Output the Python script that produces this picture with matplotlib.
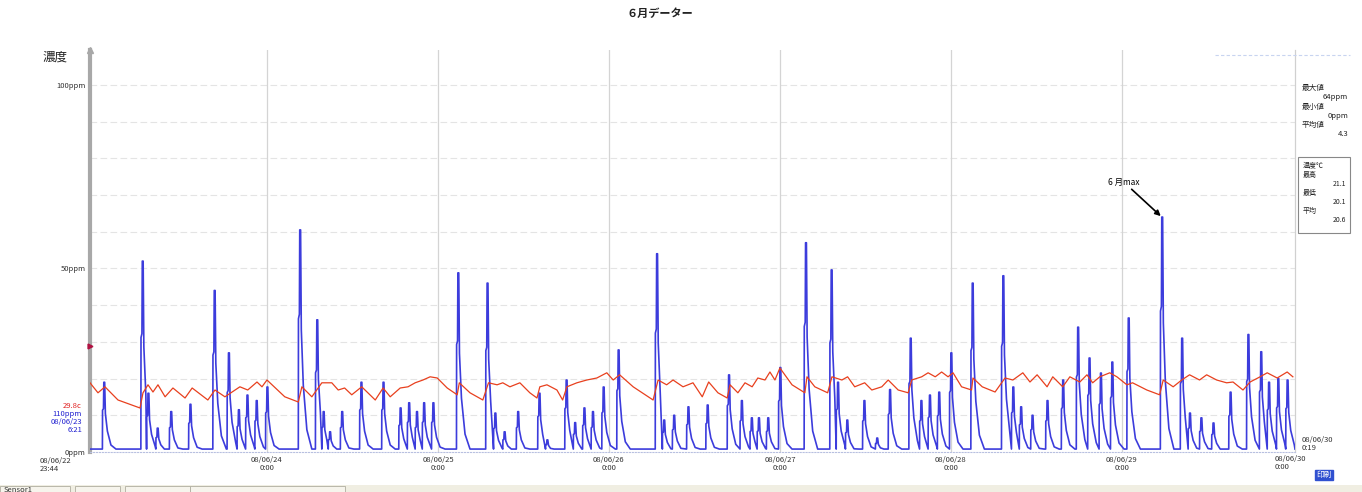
import matplotlib
matplotlib.use('Agg')
import matplotlib.pyplot as plt
from matplotlib.patches import Rectangle
import numpy as np

plt.rcParams['font.family'] = ['Noto Sans CJK JP', 'DejaVu Sans']

# hours counted from 08/06/23 0:00
event_hours = [1.1, 6.5, 7.3, 8.6, 10.5, 13.2, 16.6, 18.6, 20.0, 21.2, 22.5, 24.0,
               28.6, 31.0, 31.9, 32.8, 34.5, 37.2, 40.3, 42.7, 43.9, 45.0, 46.0, 47.3,
               50.8, 54.9, 56.0, 57.3, 59.2, 62.2, 63.3, 66.0, 67.2, 68.5, 69.7, 71.2,
               73.3, 78.7, 79.7, 81.1, 83.1, 85.8, 88.8, 90.6, 92.0, 93.0, 94.3, 96.0,
               99.6, 103.2, 104.1, 105.4, 107.8, 109.6, 111.4, 114.3, 115.8, 117.0, 118.3,
               120.0, 123.0, 127.3, 128.7, 129.8, 131.4, 133.5, 135.7, 137.8, 139.4, 141.0,
               142.6, 144.9, 149.6, 152.4, 153.5, 155.1, 156.8, 159.2, 161.7, 163.5, 164.6,
               165.9, 167.2]
event_ppm = [19, 52, 16, 6.5, 11, 13, 44, 27, 11.5, 15.5, 14, 17.7,
             60.5, 36, 11, 5.5, 11, 19, 19, 12, 13.4, 11, 13.4, 13.4,
             48.8, 46, 10.6, 5.5, 11, 16, 3.3, 19.6, 8, 12, 11, 17.7,
             27.8, 54, 8.7, 10, 12.3, 12.8, 21, 14, 9.3, 9.3, 9.3, 23,
             57, 49.6, 19, 8.7, 14, 3.8, 17, 31, 14, 15.5, 16.3,
             27, 46, 48, 17.7, 12.3, 10, 14, 19.6, 34, 25.6, 21.5,
             24.5, 36.5, 64, 31, 10.6, 9.3, 7.9, 16.3, 32, 27.3, 19,
             20, 19.6]
base_ppm = 0.8

temp_hours = [-0.84, 0.28, 1.26, 3.09, 6.18, 6.6, 7.3, 8.0, 8.7, 9.7, 10.8, 12.5, 13.5,
              15.7, 16.7, 18.1, 19.1, 20.2, 21.3, 22.6, 23.3, 24.0, 26.5, 28.4, 28.9,
              30.3, 31.7, 33.1, 34.0, 34.9, 35.9, 37.3, 39.2, 40.3, 41.3, 42.7, 43.8,
              44.8, 45.9, 46.9, 47.9, 49.3, 50.7, 51.0, 52.5, 54.3, 55.1, 56.3, 57.1,
              58.1, 59.5, 60.9, 61.9, 62.3, 63.3, 64.7, 65.5, 66.1, 67.5, 68.9, 70.3,
              71.7, 72.6, 73.5, 75.4, 78.2, 78.9, 80.1, 81.0, 82.4, 83.8, 85.1, 86.0,
              87.3, 88.6, 89.0, 90.1, 91.1, 92.1, 92.9, 93.9, 94.6, 95.3, 96.0, 97.7,
              99.5, 99.8, 100.9, 102.7, 103.3, 104.7, 105.5, 106.5, 107.9, 108.9, 110.3,
              111.2, 112.6, 114.0, 114.5, 115.9, 116.8, 117.8, 118.7, 119.6, 120.3, 121.5,
              122.9, 123.1, 124.4, 126.2, 127.6, 128.7, 130.1, 131.1, 132.1, 133.5, 134.3,
              135.7, 136.7, 138.1, 139.1, 139.9, 140.9, 142.3, 143.3, 144.7, 145.5, 147.5,
              149.3, 149.8, 151.2, 152.4, 153.5, 154.9, 155.9, 157.3, 158.7, 159.6, 161.0,
              162.0, 163.4, 164.4, 165.8, 167.2, 168.0]
temp_c = [20.83, 20.58, 20.73, 20.40, 20.20, 20.58, 20.78, 20.60, 20.78, 20.48, 20.70, 20.45, 20.70,
          20.40, 20.65, 20.48, 20.60, 20.73, 20.65, 20.85, 20.73, 20.90, 20.48, 20.35, 20.73,
          20.48, 20.83, 20.83, 20.65, 20.70, 20.53, 20.73, 20.40, 20.70, 20.48, 20.70, 20.73,
          20.83, 20.90, 20.98, 20.95, 20.70, 20.53, 20.83, 20.58, 20.40, 20.83, 20.78, 20.83,
          20.73, 20.83, 20.58, 20.45, 20.73, 20.78, 20.65, 20.40, 20.73, 20.83, 20.90, 20.95,
          21.08, 20.90, 21.03, 20.73, 20.40, 20.90, 20.78, 20.90, 20.73, 20.83, 20.48, 20.85,
          20.58, 20.45, 20.78, 20.58, 20.83, 20.73, 20.95, 20.90, 21.10, 20.90, 21.20, 20.78,
          20.58, 20.98, 20.73, 20.58, 20.98, 20.90, 20.98, 20.73, 20.83, 20.65, 20.73,
          20.90, 20.65, 20.58, 20.90, 20.98, 21.08, 20.98, 21.10, 20.98, 21.08, 20.73,
          20.65, 20.95, 20.73, 20.60, 20.95, 20.90, 21.08, 20.85, 21.03, 20.73, 20.98,
          20.73, 20.98, 20.85, 21.03, 20.83, 20.98, 21.08, 20.98, 20.78, 20.83, 20.65,
          20.53, 20.90, 20.73, 20.90, 21.03, 20.90, 21.03, 20.90, 20.83, 20.85, 20.65,
          20.85, 20.98, 21.08, 20.95, 21.10, 20.98]

day_hours = [24, 48, 72, 96, 120, 144]
day_labels = ['08/06/24\n0:00', '08/06/25\n0:00', '08/06/26\n0:00', '08/06/27\n0:00',
              '08/06/28\n0:00', '08/06/29\n0:00']

# build spike polyline (shape offsets are only drawing style)
shape_dt = [-0.2, -0.18, -0.05, 0.0, 0.12, 0.22, 0.5, 1.0, 1.7]
shape_fr = [0.0, 0.6, 0.62, 1.0, 1.0, 0.55, 0.3, 0.1, 0.0]
xs, ys = [-0.84], [base_ppm]
for i, (t, p) in enumerate(zip(event_hours, event_ppm)):
    nxt = event_hours[i + 1] - 0.21 if i + 1 < len(event_hours) else 168.3
    for dt, fr in zip(shape_dt, shape_fr):
        if t + dt < nxt and t + dt > xs[-1]:
            xs.append(t + dt)
            ys.append(max(base_ppm, fr * p))
xs.append(168.3); ys.append(base_ppm)

W, H = 1362, 492
fig = plt.figure(figsize=(W / 100, H / 100), dpi=100)
ax = fig.add_axes([90 / W, 1 - 452 / H, (1295 - 90) / W, (452 - 50) / H])

def fx(x, y):
    return x / W, 1 - y / H

for v in range(10, 110, 10):
    ax.axhline(v, color='#e4e4e4', lw=0.8, ls=(0, (6, 3)), zorder=0)
for d in day_hours:
    ax.axvline(d, color='#d4d4d4', lw=0.9, zorder=0)

ax.plot(xs, ys, color='#3c3cdc', lw=1.2, zorder=3)

ax2 = ax.twinx()
ax2.plot(temp_hours, temp_c, color='#e8401e', lw=0.9, zorder=2)
ax2.set_ylim(19.1, 29.15)
ax2.set_yticks([])
for s in ax2.spines.values():
    s.set_visible(False)

ax.set_xlim(-0.84, 168.3)
ax.set_ylim(0, 109.5)
ax.set_xticks(day_hours)
ax.set_xticklabels(day_labels, fontsize=5.5, color='#333333', linespacing=0.9)
ax.set_yticks([0, 50, 100])
ax.set_yticklabels(['0ppm', '50ppm', '100ppm'], fontsize=5.5, color='#333333')
ax.tick_params(length=0, pad=3)
ax.spines['top'].set_visible(False)
ax.spines['right'].set_color('#d0d0d0')
ax.spines['right'].set_linewidth(0.9)
ax.spines['left'].set_color('#a8a8a8')
ax.spines['left'].set_linewidth(3)
ax.spines['bottom'].set_color('#b8c0e0')
ax.spines['bottom'].set_linestyle(':')
ax.plot([0], [1], marker='^', color='#a8a8a8', ms=5, transform=ax.transAxes, clip_on=False)
ax.plot([0], [29], marker='>', color='#b01040', ms=3.5, transform=ax.get_yaxis_transform(),
        clip_on=False, zorder=5)

ax.annotate('6 月max', xy=(149.6, 64), xytext=(1108 / W, 1 - 182 / H),
            textcoords='figure fraction', fontsize=6, ha='left', va='center',
            arrowprops=dict(arrowstyle='-|>', color='black', lw=1.2, mutation_scale=8,
                            shrinkA=0, shrinkB=1))

fig.text(*fx(660, 13), '６月データー', fontsize=8, weight='bold', ha='center', va='center', color='#222222')
fig.text(*fx(55, 57), '濃度', fontsize=9, ha='center', va='center', color='#222222')

fig.text(*fx(82, 406), '29.8c', fontsize=5.5, color='#e02020', ha='right', va='center')
fig.text(*fx(82, 414), '110ppm', fontsize=5.5, color='#2020d0', ha='right', va='center')
fig.text(*fx(82, 422), '08/06/23', fontsize=5.5, color='#2020d0', ha='right', va='center')
fig.text(*fx(82, 430), '6:21', fontsize=5.5, color='#2020d0', ha='right', va='center')
fig.text(*fx(40, 461), '08/06/22', fontsize=5.5, color='#333333', ha='left', va='center')
fig.text(*fx(40, 469), '23:44', fontsize=5.5, color='#333333', ha='left', va='center')

fig.text(*fx(1302, 440), '08/06/30', fontsize=5.5, color='#333333', ha='left', va='center')
fig.text(*fx(1302, 448), '0:19', fontsize=5.5, color='#333333', ha='left', va='center')
fig.text(*fx(1290, 459), '08/06/30', fontsize=5.5, color='#333333', ha='center', va='center')
fig.text(*fx(1282, 467), '0:00', fontsize=5.5, color='#333333', ha='center', va='center')
fig.text(*fx(1324, 475), '印刷', fontsize=5.5, color='white', ha='center', va='center',
         bbox=dict(boxstyle='square,pad=0.15', fc='#3050d0', ec='#3050d0'))

stats = [('最大値', 88, 'left'), ('64ppm', 97, 'right'), ('最小値', 107, 'left'),
         ('0ppm', 116, 'right'), ('平均値', 125, 'left'), ('4.3', 134, 'right')]
for txt, y, ha in stats:
    fig.text(*fx(1302 if ha == 'left' else 1348, y), txt, fontsize=5.5, color='#222222', ha=ha, va='center')
fig.patches.append(Rectangle(fx(1298, 233), 52 / W, 76 / H, transform=fig.transFigure,
                             fill=False, ec='#888888', lw=0.8))
temp_box = [('温度℃', 165, 'left'), ('最高', 175, 'left'), ('21.1', 184, 'right'),
            ('最低', 193, 'left'), ('20.1', 202, 'right'), ('平均', 211, 'left'), ('20.6', 220, 'right')]
for txt, y, ha in temp_box:
    fig.text(*fx(1303 if ha == 'left' else 1346, y), txt, fontsize=5, color='#222222', ha=ha, va='center')

fig.add_artist(plt.Line2D([1215 / W, 1350 / W], [1 - 55 / H] * 2, color='#c8d4f0',
                          lw=0.8, ls=(0, (3, 2)), transform=fig.transFigure))

# bottom tab strip
fig.patches.append(Rectangle((0, 0), 1, 7 / H, transform=fig.transFigure,
                             fc='#f0eee2', ec='none'))
for x0, x1 in [(0, 70), (75, 120), (125, 190), (190, 345)]:
    fig.patches.append(Rectangle(fx(x0, 492), (x1 - x0) / W, 6 / H, transform=fig.transFigure,
                                 fc='#f6f4ec', ec='#b0aea0', lw=0.6))
fig.text(*fx(4, 490), 'Sensor1', fontsize=5.5, color='#333333', ha='left', va='center')

fig.savefig('out.png', dpi=100)
